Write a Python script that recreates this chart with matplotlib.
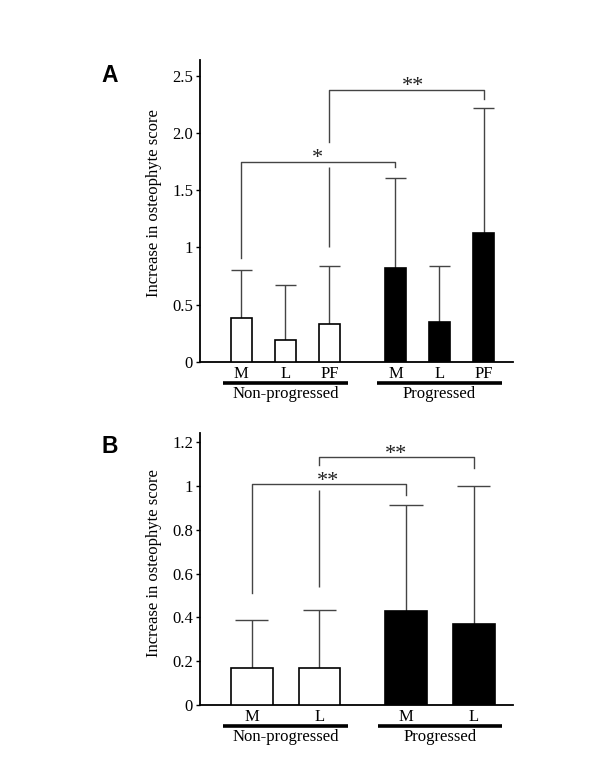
import numpy as np
import matplotlib
matplotlib.use("Agg")
from matplotlib import pyplot as plt
from matplotlib import transforms

plt.rcParams['font.family'] = ['Liberation Serif', 'DejaVu Serif']

# Panel A data
cats_a = ["M", "L", "PF", "M", "L", "PF"]
pos_a = np.array([0, 1, 2, 3.5, 4.5, 5.5])
mean_a = [0.38, 0.19, 0.33, 0.82, 0.35, 1.13]
upper_a = [0.80, 0.67, 0.835, 1.61, 0.84, 2.22]
yticks_a = [0, 0.5, 1, 1.5, 2.0, 2.5]
yticklabels_a = ["0", "0.5", "1", "1.5", "2.0", "2.5"]

# Panel B data
cats_b = ["M", "L", "M", "L"]
pos_b = np.array([0, 1, 2.28, 3.28])
mean_b = [0.17, 0.17, 0.43, 0.37]
upper_b = [0.387, 0.435, 0.912, 1.0]
yticks_b = [0, 0.2, 0.4, 0.6, 0.8, 1, 1.2]
yticklabels_b = ["0", "0.2", "0.4", "0.6", "0.8", "1", "1.2"]

groups = ["Non-progressed", "Progressed"]

LINE = "#444444"

fig = plt.figure(figsize=(6, 7.76), dpi=100)
ax_a = fig.add_axes([0.3333, 0.5339, 0.5217, 0.3888])
ax_b = fig.add_axes([0.3333, 0.0915, 0.5217, 0.3501])


def draw_panel(ax, pos, means, uppers, cats, fill, width, cap, xlim, ylim,
               yticks, yticklabels, ext, n_non):
    # error bars (upper only) behind the bars
    ax.vlines(pos, means, uppers, color=LINE, lw=1.0, zorder=2)
    ax.hlines(uppers, pos - cap, pos + cap, color=LINE, lw=1.0, zorder=2)
    ax.bar(pos, means, width=width, color=fill, edgecolor="black",
           linewidth=1.2, zorder=3)

    ax.set_xlim(*xlim)
    ax.set_ylim(*ylim)
    ax.set_yticks(yticks)
    ax.set_yticklabels(yticklabels, fontsize=12)
    ax.set_xticks([])
    ax.tick_params(axis="y", length=3, width=1, pad=2)
    for s in ["top", "right"]:
        ax.spines[s].set_visible(False)
    for s in ["left", "bottom"]:
        ax.spines[s].set_linewidth(1.3)

    ax.set_ylabel("Increase in osteophyte score", fontsize=12)

    # category labels under axis
    for p, c in zip(pos, cats):
        ax.annotate(c, xy=(p, 0), xycoords=("data", "axes fraction"),
                    xytext=(0, -8.6), textcoords="offset points",
                    ha="center", va="center", fontsize=12)

    # group underline and labels
    line_tr = transforms.offset_copy(ax.get_xaxis_transform(), fig=fig,
                                     x=0, y=-15.3, units="points")
    spans = [(pos[0] - ext, pos[n_non - 1] + ext),
             (pos[n_non] - ext, pos[-1] + ext)]
    for (x0, x1), g in zip(spans, groups):
        ax.plot([x0, x1], [0, 0], color="black", lw=2.6, transform=line_tr,
                clip_on=False, solid_capstyle="butt")
        ax.annotate(g, xy=((x0 + x1) / 2, 0),
                    xycoords=("data", "axes fraction"),
                    xytext=(0, -23.3), textcoords="offset points",
                    ha="center", va="center", fontsize=12)


def bracket(ax, x0, x1, y, b0, b1, text, tx, ty):
    ax.plot([x0, x0, x1, x1], [b0, y, y, b1], color=LINE, lw=1.0,
            clip_on=False, zorder=1)
    ax.text(tx, ty, text, ha="center", va="center", fontsize=16,
            color="#222222")


draw_panel(ax_a, pos_a, mean_a, upper_a, cats_a,
           ["white", "white", "white", "black", "black", "black"],
           0.485, 0.24, (-0.94, 6.17), (0, 2.64),
           yticks_a, yticklabels_a, 0.42, 3)
draw_panel(ax_b, pos_b, mean_b, upper_b, cats_b,
           ["white", "white", "black", "black"], 0.616, 0.245,
           (-0.765, 3.86), (0, 1.241), yticks_b, yticklabels_b, 0.42, 2)

ax_a.yaxis.set_label_coords(-0.12, 0.526)
ax_b.yaxis.set_label_coords(-0.12, 0.523)

# significance brackets, panel A
bracket(ax_a, pos_a[0], pos_a[3], 1.75, 0.91, 1.70, "*", 1.74, 1.78)
ax_a.vlines(pos_a[2], 1.0, 1.70, color=LINE, lw=1.0, zorder=1)
bracket(ax_a, pos_a[2], pos_a[5], 2.38, 1.92, 2.30, "**", 3.9, 2.41)

# significance brackets, panel B
bracket(ax_b, pos_b[0], pos_b[2], 1.008, 0.51, 0.96, "**", 1.12, 1.02)
ax_b.vlines(pos_b[1], 0.54, 0.98, color=LINE, lw=1.0, zorder=1)
bracket(ax_b, pos_b[1], pos_b[3], 1.131, 1.096, 1.084, "**", 2.13, 1.145)

fig.text(110 / 600, 1 - 75 / 776, "A", fontsize=16.5, fontweight="bold",
         family="Liberation Sans", ha="center", va="center")
fig.text(110 / 600, 1 - 447 / 776, "B", fontsize=16.5, fontweight="bold",
         family="Liberation Sans", ha="center", va="center")

fig.savefig("out.png", dpi=100)
